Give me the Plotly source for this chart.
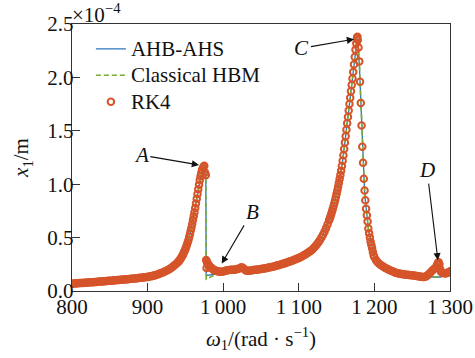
import plotly.graph_objects as go

# ---------------- data (amplitude in units of 1e-4 m) ----------------
# RK4 sweep, lower-frequency flank (800 - 940, step 2)
rk4_omega_a = [
    800, 802, 804, 806, 808, 810, 812, 814, 816, 818, 820, 822, 824, 826, 828,
    830, 832, 834, 836, 838, 840, 842, 844, 846, 848, 850, 852, 854, 856, 858,
    860, 862, 864, 866, 868, 870, 872, 874, 876, 878, 880, 882, 884, 886, 888,
    890, 892, 894, 896, 898, 900, 902, 904, 906, 908, 910, 912, 914, 916, 918,
    920, 922, 924, 926, 928, 930, 932, 934, 936, 938, 940,
]
rk4_amp_a = [
    0.069, 0.070, 0.071, 0.072, 0.073, 0.074, 0.075, 0.076, 0.077, 0.078,
    0.079, 0.080, 0.081, 0.082, 0.083, 0.084, 0.085, 0.086, 0.088, 0.089,
    0.090, 0.091, 0.092, 0.094, 0.095, 0.096, 0.097, 0.099, 0.100, 0.101,
    0.102, 0.104, 0.105, 0.106, 0.107, 0.108, 0.110, 0.111, 0.113, 0.114,
    0.115, 0.117, 0.118, 0.120, 0.122, 0.123, 0.125, 0.127, 0.128, 0.130,
    0.132, 0.135, 0.137, 0.140, 0.144, 0.148, 0.152, 0.157, 0.163, 0.168,
    0.174, 0.180, 0.187, 0.194, 0.201, 0.210, 0.220, 0.231, 0.243, 0.256,
    0.270,
]
# peak A and the jump down
rk4_omega_b = [
    941, 942, 943, 944, 945, 946, 947, 948, 949, 950, 951, 952, 953, 954, 955,
    956, 957, 958, 959, 960, 961, 962, 963, 964, 965, 966, 967, 968, 969, 970,
    971, 972, 973, 974, 975, 976, 977,
    977.5, 978, 978.5, 979, 980, 981, 982, 983, 984, 985, 986, 987, 988, 989,
    990, 992, 994, 996, 998,
]
rk4_amp_b = [
    0.277, 0.285, 0.295, 0.306, 0.318, 0.331, 0.345, 0.360, 0.376, 0.393,
    0.412, 0.432, 0.454, 0.478, 0.505, 0.534, 0.564, 0.595, 0.628, 0.664,
    0.700, 0.738, 0.778, 0.820, 0.864, 0.908, 0.952, 0.996, 1.038, 1.075,
    1.106, 1.132, 1.152, 1.166, 1.173, 1.110, 1.085,
    0.290, 0.215, 0.275, 0.262, 0.250, 0.240, 0.232, 0.225, 0.218, 0.212,
    0.206, 0.201, 0.197, 0.193, 0.190, 0.186, 0.183, 0.181, 0.180,
]
# between the peaks (1000 - 1140, step 2)
rk4_omega_c = [
    1000, 1002, 1004, 1006, 1008, 1010, 1012, 1014, 1016, 1018, 1020, 1022,
    1024, 1026, 1028, 1030, 1032, 1034, 1036, 1038, 1040, 1042, 1044, 1046,
    1048, 1050, 1052, 1054, 1056, 1058, 1060, 1062, 1064, 1066, 1068, 1070,
    1072, 1074, 1076, 1078, 1080, 1082, 1084, 1086, 1088, 1090, 1092, 1094,
    1096, 1098, 1100, 1102, 1104, 1106, 1108, 1110, 1112, 1114, 1116, 1118,
    1120, 1122, 1124, 1126, 1128, 1130, 1132, 1134, 1136, 1138, 1140,
]
rk4_amp_c = [
    0.182, 0.187, 0.191, 0.194, 0.196, 0.198, 0.199, 0.200, 0.202, 0.204,
    0.208, 0.214, 0.222, 0.218, 0.204, 0.192, 0.189, 0.190, 0.192, 0.194,
    0.196, 0.198, 0.200, 0.202, 0.204, 0.207, 0.209, 0.211, 0.214, 0.216,
    0.219, 0.222, 0.225, 0.228, 0.232, 0.236, 0.240, 0.244, 0.248, 0.252,
    0.257, 0.261, 0.266, 0.271, 0.276, 0.281, 0.286, 0.292, 0.298, 0.304,
    0.310, 0.317, 0.324, 0.332, 0.340, 0.349, 0.358, 0.367, 0.378, 0.389,
    0.405, 0.420, 0.437, 0.456, 0.477, 0.500, 0.526, 0.555, 0.587, 0.622,
    0.660,
]
# peak C
rk4_omega_d = [
    1141, 1142, 1143, 1144, 1145, 1146, 1147, 1148, 1149, 1150, 1151, 1152,
    1153, 1154, 1155, 1156, 1157, 1158, 1159, 1160, 1161, 1162, 1163, 1164,
    1165, 1166, 1167, 1168, 1169, 1170, 1171, 1172, 1173, 1174, 1175, 1176,
    1177, 1177.5, 1178, 1179, 1180, 1181, 1182, 1183, 1184, 1185, 1186, 1187,
    1188, 1189, 1190, 1191, 1192,
]
rk4_amp_d = [
    0.680, 0.701, 0.723, 0.746, 0.770, 0.795, 0.822, 0.850, 0.880, 0.911,
    0.943, 0.977, 1.012, 1.048, 1.085, 1.125, 1.170, 1.220, 1.270, 1.330,
    1.390, 1.450, 1.510, 1.570, 1.630, 1.690, 1.750, 1.810, 1.870, 1.930,
    1.990, 2.050, 2.120, 2.190, 2.260, 2.320, 2.370, 2.380, 2.350, 2.280,
    2.150, 1.960, 1.760, 1.550, 1.350, 1.200, 1.050, 0.940, 0.850, 0.770,
    0.710, 0.650, 0.585,
]
# upper-frequency flank with point D
rk4_omega_e = [
    1193, 1194, 1195, 1196, 1197, 1198, 1199, 1200, 1202, 1204, 1206, 1208,
    1210, 1212, 1214, 1216, 1218, 1220, 1222, 1224, 1226, 1228, 1230, 1232,
    1234, 1236, 1238, 1240, 1242, 1244, 1246, 1248, 1250, 1252, 1254, 1256,
    1258, 1260, 1262, 1264, 1266, 1268, 1270, 1272, 1274, 1276, 1278, 1280,
    1282, 1283, 1284, 1285, 1286, 1287, 1288, 1290, 1292, 1294, 1296, 1298,
    1300,
]
rk4_amp_e = [
    0.540, 0.500, 0.460, 0.430, 0.400, 0.365, 0.335, 0.315, 0.290, 0.272,
    0.258, 0.246, 0.236, 0.226, 0.218, 0.210, 0.203, 0.196, 0.190, 0.184,
    0.178, 0.172, 0.168, 0.165, 0.162, 0.159, 0.157, 0.155, 0.153, 0.151,
    0.150, 0.148, 0.147, 0.145, 0.143, 0.141, 0.139, 0.136, 0.133, 0.131,
    0.132, 0.136, 0.145, 0.158, 0.172, 0.187, 0.201, 0.214, 0.228, 0.245,
    0.265, 0.270, 0.250, 0.205, 0.180, 0.170, 0.166, 0.165, 0.168, 0.175,
    0.185,
]

# harmonic-balance solutions differ from RK4 only around the jumps
jump1_omega = [976.5, 977.0, 977.5, 985, 993, 1000]
ahb_jump1 = [1.120, 1.100, 0.145, 0.150, 0.160, 0.182]
hbm_jump1 = [1.120, 1.100, 0.110, 0.140, 0.165, 0.182]
jump2_omega = [1267, 1272, 1277, 1283, 1288, 1291]
ahb_jump2 = [0.133, 0.131, 0.130, 0.130, 0.131, 0.167]
hbm_jump2 = [0.133, 0.131, 0.130, 0.130, 0.131, 0.167]

xtick_vals = [800, 900, 1000, 1100, 1200, 1300]
xtick_text = ["800", "900", "1\u2009000", "1\u2009100", "1\u2009200", "1\u2009300"]
ytick_vals = [0.0, 0.5, 1.0, 1.5, 2.0, 2.5]

labels = ["<i>A</i>", "<i>B</i>", "<i>C</i>", "<i>D</i>"]
label_tip_x = [968, 998, 1173, 1284]
label_tip_y = [1.18, 0.257, 2.358, 0.288]
label_txt_x = [891.7, 1038.1, 1104.2, 1269.6]
label_txt_y = [1.273, 0.741, 2.274, 1.132]

series_names = ["AHB-AHS", "Classical HBM", "RK4"]

# ---------------- assemble series ----------------
rk4_omega = rk4_omega_a + rk4_omega_b + rk4_omega_c + rk4_omega_d + rk4_omega_e
rk4_amp = rk4_amp_a + rk4_amp_b + rk4_amp_c + rk4_amp_d + rk4_amp_e


def hb_curve(jump1, jump2):
    w, a = [], []
    for x, y in zip(rk4_omega, rk4_amp):
        if x <= 975:
            w.append(x); a.append(y)
    w += jump1_omega; a += jump1
    for x, y in zip(rk4_omega, rk4_amp):
        if 1000 < x < 1267:
            w.append(x); a.append(y)
    w += jump2_omega; a += jump2
    for x, y in zip(rk4_omega, rk4_amp):
        if x > 1291:
            w.append(x); a.append(y)
    return w, a


ahb_w, ahb_a = hb_curve(ahb_jump1, ahb_jump2)
hbm_w, hbm_a = hb_curve(hbm_jump1, hbm_jump2)

FONT = "Liberation Serif"
BLUE = "#2a77bb"
GREEN = "#77ac30"
ORANGE = "#d6542a"
INK = "#111"


def legend_label(s):
    return '<span style="font-size:21px">' + s + "</span>"


fig = go.Figure()
fig.add_trace(go.Scatter(x=ahb_w, y=ahb_a, mode="lines", name=legend_label(series_names[0]),
                         line=dict(color=BLUE, width=1.3)))
fig.add_trace(go.Scatter(x=hbm_w, y=hbm_a, mode="lines", name=legend_label(series_names[1]),
                         line=dict(color=GREEN, width=1.6, dash="5px,3px")))
fig.add_trace(go.Scatter(x=rk4_omega, y=rk4_amp, mode="markers", name=legend_label(series_names[2]),
                         marker=dict(symbol="circle-open", size=6.5, color=ORANGE,
                                     line=dict(width=2, color=ORANGE))))

for t, tx, ty, ax_, ay_ in zip(labels, label_tip_x, label_tip_y, label_txt_x, label_txt_y):
    fig.add_annotation(x=tx, y=ty, ax=ax_, ay=ay_, xref="x", yref="y",
                       axref="x", ayref="y", text=t, showarrow=True,
                       arrowhead=2, arrowsize=1.3, arrowwidth=1.1,
                       arrowcolor=INK, font=dict(family=FONT, size=21, color=INK))

fig.add_annotation(x=0, y=1, xref="paper", yref="paper", xanchor="left", yanchor="bottom",
                   text="×10<sup>−4</sup>", showarrow=False,
                   font=dict(family=FONT, size=21, color=INK), yshift=-5, xshift=-2)

axis_common = dict(showline=True, linecolor="#333", linewidth=1.4, mirror=True,
                   ticks="inside", ticklen=8, tickwidth=1.2, tickcolor="#333",
                   showgrid=False, zeroline=False, automargin=False,
                   tickfont=dict(family=FONT, size=21, color=INK))

fig.update_layout(
    width=475, height=358,
    margin=dict(l=72, r=25, t=24, b=67),
    paper_bgcolor="white", plot_bgcolor="white",
    xaxis=dict(range=[800, 1300], tickvals=xtick_vals, ticktext=xtick_text,
               ticklabelstandoff=-3,
               title=dict(text="<i>ω</i><sub>1</sub>/(rad · s<sup>−1</sup>)",
                          font=dict(family=FONT, size=21, color=INK), standoff=12),
               **axis_common),
    yaxis=dict(range=[0, 2.5], tickvals=ytick_vals, tickformat=".1f",
               ticklabelstandoff=-7,
               title=dict(text="<i>x</i><sub>1</sub>/m",
                          font=dict(family=FONT, size=21, color=INK), standoff=12),
               **axis_common),
    legend=dict(x=0.05, y=0.975, xanchor="left", yanchor="top",
                bgcolor="rgba(0,0,0,0)", font=dict(family=FONT, size=18, color=INK),
                itemwidth=30, tracegroupgap=0),
    showlegend=True,
)

fig.write_html("out.html", config={"displayModeBar": False},
               post_script="document.body.style.margin='0';")
